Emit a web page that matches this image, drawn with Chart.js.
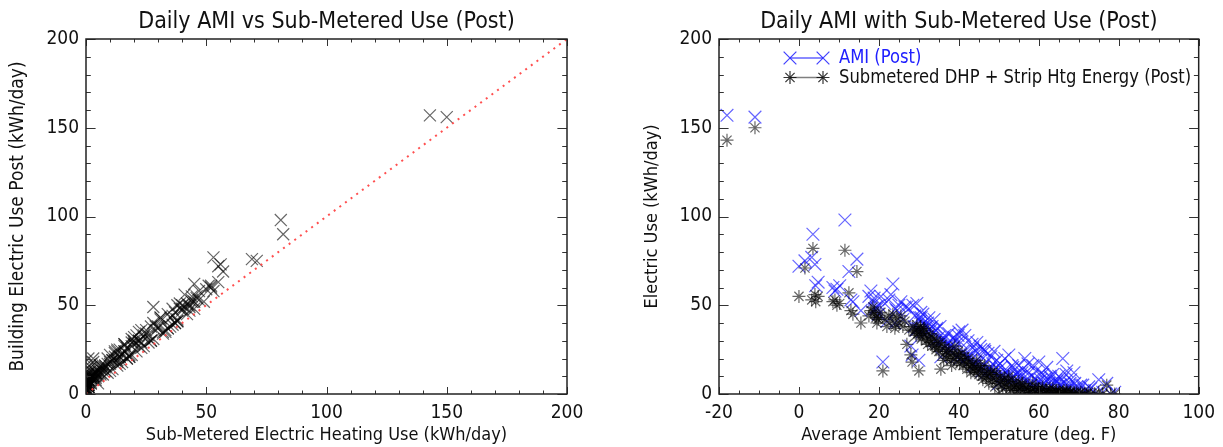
<!DOCTYPE html>
<html>
<head>
<meta charset="utf-8">
<script src="https://cdn.jsdelivr.net/npm/chart.js@4"></script>
<style>
  html, body { margin: 0; padding: 0; background: #fff; }
  #wrap { position: relative; width: 1223px; height: 447px; }
  canvas { position: absolute; top: 0; }
  #left { left: 0; }
  #right { left: 611px; }
</style>
</head>
<body>
<div id="wrap">
  <canvas id="left" width="611" height="447"></canvas>
  <canvas id="right" width="612" height="447"></canvas>
</div>
<script>
// One entry per day: average temperature, sub-metered heating energy, AMI whole-building use
const tempF = [
  -18, -11, 0, 1.5, 3.2, 3.5, 4.0, 4.2, 4.8, 8.5,
  9.0, 9.5, 10.2, 11.5, 12.5, 13.0, 13.5, 14.5, 15.5, 17.5,
  18.0, 18.5, 18.8, 19.0, 19.3, 19.5, 19.8, 20.0, 20.5, 21.0,
  21.5, 22.0, 22.5, 23.0, 23.5, 24.0, 24.2, 24.5, 25.0, 25.5,
  26.0, 26.5, 27.0, 27.5, 28.0, 28.3, 28.5, 28.8, 29.0, 29.3,
  29.5, 29.8, 30.0, 30.2, 30.4, 30.5, 30.6, 30.8, 31.0, 31.2,
  31.5, 31.8, 32.0, 32.2, 32.5, 32.8, 33.0, 33.3, 33.5, 33.8,
  34.0, 34.3, 34.5, 34.8, 35.0, 35.3, 35.5, 35.8, 36.0, 36.2,
  36.5, 36.8, 37.0, 37.3, 37.5, 37.8, 38.0, 38.2, 38.5, 38.8,
  39.0, 39.3, 39.5, 39.8, 40.0, 40.2, 40.5, 40.8, 41.0, 41.3,
  41.5, 41.8, 42.0, 42.3, 42.5, 42.8, 43.0, 43.3, 43.5, 43.8,
  44.0, 44.3, 44.5, 44.8, 45.0, 45.3, 45.5, 45.8, 46.0, 46.3,
  46.5, 46.8, 47.0, 47.3, 47.5, 47.8, 48.0, 48.3, 48.5, 48.8,
  49.0, 49.3, 49.5, 49.8, 50.0, 50.3, 50.5, 50.8, 51.0, 51.3,
  51.5, 51.8, 52.0, 52.3, 52.5, 52.8, 53.0, 53.3, 53.5, 53.8,
  54.0, 54.3, 54.5, 54.8, 55.0, 55.3, 55.5, 55.8, 56.0, 56.3,
  56.5, 56.8, 57.0, 57.3, 57.5, 57.8, 58.0, 58.3, 58.5, 58.8,
  59.0, 59.3, 59.5, 59.8, 60.0, 60.3, 60.5, 60.8, 61.0, 61.3,
  61.5, 61.8, 62.0, 62.3, 62.5, 62.8, 63.0, 63.3, 63.5, 63.8,
  64.0, 64.3, 64.5, 64.8, 65.0, 65.3, 65.5, 65.8, 66.0, 66.3,
  66.5, 66.8, 67.0, 67.3, 67.5, 67.8, 68.0, 68.5, 68.8, 69.0,
  69.5, 70.0, 70.5, 71.0, 71.5, 72.0, 72.5, 73.0, 74.0, 75.0,
  76.0, 77.0, 78.0, 79.0
];
const subMetered = [
  143, 150, 55, 71, 53, 82, 56, 52, 55, 52,
  53, 50, 51, 81, 57, 47, 45, 69, 40, 44,
  47, 49, 46, 45, 43, 40, 42, 43, 46, 13,
  42, 38, 44, 41, 45, 37, 39, 43, 40, 44,
  38, 41, 28, 36, 22, 18, 38, 35, 36, 33,
  39, 34, 13, 35, 38, 37, 31, 32, 34, 37,
  36, 30, 33, 28, 31, 34, 29, 27, 32, 31,
  27, 25, 30, 26, 24, 29, 14, 28, 22, 19,
  26, 24, 20, 23, 25, 21, 19, 16, 23, 20,
  27, 22, 18, 24, 22, 17, 20, 23, 16, 19,
  21, 17, 14, 20, 18, 15, 12, 16, 17, 13,
  15, 12, 19, 14, 11, 16, 14, 10, 8, 13,
  16, 9, 10, 12, 6, 11, 12, 7, 9, 13,
  4, 8, 11, 6, 0, 10, 7, 5, 3, 8,
  9, 4, 5, 7, 10, 3, 2, 8, 6, 4,
  1, 5, 4, 2, 7, 3, 2, 6, 5, 1,
  3, 4, 0, 2, 4, 1, 1, 3, 6, 0,
  2, 4, 0, 2, 3, 1, 1, 3, 4, 0,
  0, 2, 2, 0, 1, 3, 0, 1, 3, 0,
  0, 2, 1, 0, 2, 1, 0, 0, 1, 2,
  0, 1, 2, 0, 0, 1, 1, 0, 1, 0,
  1, 0, 1, 0, 0, 0, 1, 0, 0, 1,
  0, 5, 0, 0
];
const amiUse = [
  157, 156, 72, 75, 77, 90, 73, 61, 63, 60,
  58, 59, 61, 98, 69, 53, 52, 76, 47, 55,
  58, 52, 54, 48, 49, 48, 45, 50, 55, 18,
  51, 41, 53, 56, 62, 40, 48, 47, 50, 52,
  42, 49, 49, 48, 27, 22, 50, 38, 44, 36,
  51, 37, 19, 43, 41, 46, 43, 35, 45, 40,
  39, 38, 35, 40, 43, 37, 36, 38, 34, 42,
  30, 36, 37, 29, 32, 38, 21, 31, 30, 31,
  33, 27, 28, 29, 34, 24, 27, 28, 26, 32,
  30, 30, 21, 33, 35, 20, 29, 36, 24, 22,
  33, 20, 21, 30, 21, 22, 19, 28, 26, 16,
  18, 24, 29, 17, 19, 27, 25, 13, 16, 25,
  24, 12, 18, 23, 14, 14, 21, 13, 17, 24,
  12, 15, 19, 11, 6, 17, 15, 10, 10, 13,
  20, 9, 13, 11, 22, 8, 9, 16, 15, 10,
  8, 11, 12, 6, 16, 9, 10, 12, 14, 5,
  20, 8, 8, 17, 12, 5, 6, 10, 16, 3,
  9, 13, 5, 7, 18, 4, 8, 12, 11, 6,
  4, 9, 15, 3, 6, 10, 9, 4, 11, 6,
  3, 8, 7, 2, 10, 5, 5, 8, 20, 6,
  2, 11, 13, 3, 4, 6, 8, 3, 12, 6,
  4, 2, 5, 5, 2, 1, 4, 3, 2, 8,
  1, 6, 0, 1
];

const FONT = "'Liberation Sans Narrow', 'DejaVu Sans Condensed', 'Liberation Sans', sans-serif";
const INK = '#111';

// inward tick marks on all four sides plus the box, IDL style
const frameTicks = {
  id: 'frameTicks',
  afterDatasetsDraw(chart, args, o) {
    const {ctx, chartArea: a, scales} = chart;
    ctx.save();
    ctx.strokeStyle = '#333';
    ctx.lineWidth = 1;
    ctx.beginPath();
    for (let v = o.xMin; v <= o.xMax + 1e-9; v += o.xMinor) {
      const px = Math.round(scales.x.getPixelForValue(v)) + 0.5;
      const len = Math.abs(v % o.xMajor) < 1e-9 ? 7 : 3.5;
      ctx.moveTo(px, a.bottom); ctx.lineTo(px, a.bottom - len);
      ctx.moveTo(px, a.top); ctx.lineTo(px, a.top + len);
    }
    for (let v = o.yMin; v <= o.yMax + 1e-9; v += o.yMinor) {
      const py = Math.round(scales.y.getPixelForValue(v)) + 0.5;
      const len = Math.abs(v % o.yMajor) < 1e-9 ? 9.6 : 4.8;
      ctx.moveTo(a.left, py); ctx.lineTo(a.left + len, py);
      ctx.moveTo(a.right, py); ctx.lineTo(a.right - len, py);
    }
    ctx.stroke();
    ctx.strokeStyle = '#222';
    ctx.lineWidth = 1.5;
    ctx.strokeRect(a.left, a.top, a.right - a.left, a.bottom - a.top);
    ctx.restore();
  }
};

// hand-placed legend in the upper left of the plot
const boxLegend = {
  id: 'boxLegend',
  afterDraw(chart, args, o) {
    if (!o.items) return;
    const {ctx, chartArea: a} = chart;
    ctx.save();
    o.items.forEach((it, i) => {
      const y = a.top + 19 + i * 19.5;
      const x0 = a.left + 71, x1 = a.left + 104;
      ctx.strokeStyle = it.line;
      ctx.lineWidth = 1.5;
      ctx.beginPath(); ctx.moveTo(x0, y); ctx.lineTo(x1, y); ctx.stroke();
      ctx.strokeStyle = it.color;
      ctx.lineWidth = 1.2;
      [x0, x1].forEach(x => Chart.helpers.drawPoint(ctx, {pointStyle: it.style, radius: it.radius, borderWidth: 1.2}, x, y));
      // squeeze the text a little so the long label stays inside the box
      ctx.save();
      ctx.translate(a.left + 120, y);
      ctx.scale(0.91, 1);
      ctx.fillStyle = it.textColor;
      ctx.font = `20px ${FONT}`;
      ctx.textBaseline = 'middle';
      ctx.fillText(it.text, 0, 0);
      ctx.restore();
    });
    ctx.restore();
  }
};

function axisX(min, max, step, title) {
  return {
    type: 'linear', min, max,
    grid: {display: false, drawTicks: false},
    border: {display: false},
    ticks: {stepSize: step, color: INK, padding: 8, font: {family: FONT, size: 19}, maxRotation: 0},
    title: {display: true, text: title, color: INK, font: {family: FONT, size: 18, lineHeight: 1.2}, padding: {top: 1, bottom: 1}},
    afterFit(s) { s.height = 53; }
  };
}

function axisY(title, width, size, titlePad) {
  return {
    type: 'linear', min: 0, max: 200,
    grid: {display: false, drawTicks: false},
    border: {display: false},
    ticks: {stepSize: 50, color: INK, padding: 7, font: {family: FONT, size: 19}},
    title: {display: true, text: title, color: INK, font: {family: FONT, size, lineHeight: 1.2}, padding: {top: titlePad, bottom: titlePad}},
    afterFit(s) { s.width = width; }
  };
}

function titleOpts(text) {
  return {
    display: true, text, fullSize: false, color: INK,
    font: {family: FONT, size: 23, weight: 'normal', lineHeight: 1.2},
    padding: {top: 8, bottom: 3.4}
  };
}

const scatterPairs = subMetered.map((s, i) => ({x: s, y: amiUse[i]}));
const amiByTemp = tempF.map((t, i) => ({x: t, y: amiUse[i]}));
const subByTemp = tempF.map((t, i) => ({x: t, y: subMetered[i]}));

new Chart(document.getElementById('left'), {
  type: 'scatter',
  data: {
    datasets: [
      {
        type: 'line', data: [{x: 0, y: 0}, {x: 200, y: 200}],
        borderColor: 'rgba(255,70,70,0.95)', borderWidth: 2, borderDash: [2, 5],
        pointRadius: 0, fill: false
      },
      {
        data: scatterPairs, pointStyle: 'crossRot', pointRadius: 8.5,
        borderColor: 'rgba(0,0,0,0.6)', borderWidth: 1.2, backgroundColor: 'transparent'
      }
    ]
  },
  options: {
    responsive: false, animation: false, events: [],
    layout: {padding: {left: 0, right: 44, top: 0, bottom: 0}},
    plugins: {
      legend: {display: false}, tooltip: {enabled: false},
      title: titleOpts('Daily AMI vs Sub-Metered Use (Post)'),
      frameTicks: {xMin: 0, xMax: 200, xMinor: 10, xMajor: 50, yMin: 0, yMax: 200, yMinor: 10, yMajor: 50}
    },
    scales: {
      x: axisX(0, 200, 50, 'Sub-Metered Electric Heating Use (kWh/day)'),
      y: axisY('Building Electric Use Post (kWh/day)', 86, 19, 6.6)
    }
  },
  plugins: [frameTicks]
});

new Chart(document.getElementById('right'), {
  type: 'scatter',
  data: {
    datasets: [
      {
        label: 'Submetered DHP + Strip Htg Energy (Post)',
        data: subByTemp, pointStyle: 'star', pointRadius: 6.5,
        borderColor: 'rgba(0,0,0,0.6)', borderWidth: 1.2, backgroundColor: 'transparent'
      },
      {
        label: 'AMI (Post)',
        data: amiByTemp, pointStyle: 'crossRot', pointRadius: 9,
        borderColor: 'rgba(20,20,255,0.65)', borderWidth: 1.2, backgroundColor: 'transparent'
      }
    ]
  },
  options: {
    responsive: false, animation: false, events: [],
    layout: {padding: {left: 0, right: 24, top: 0, bottom: 0}},
    plugins: {
      legend: {display: false}, tooltip: {enabled: false},
      title: titleOpts('Daily AMI with Sub-Metered Use (Post)'),
      frameTicks: {xMin: -20, xMax: 100, xMinor: 5, xMajor: 20, yMin: 0, yMax: 200, yMinor: 10, yMajor: 50},
      boxLegend: {
        items: [
          {text: 'AMI (Post)', textColor: '#2020ff', color: 'rgba(30,30,255,0.85)', line: 'rgba(60,60,255,0.8)', style: 'crossRot', radius: 9},
          {text: 'Submetered DHP + Strip Htg Energy (Post)', textColor: INK, color: 'rgba(0,0,0,0.8)', line: 'rgba(0,0,0,0.5)', style: 'star', radius: 6.5}
        ]
      }
    },
    scales: {
      x: axisX(-20, 100, 20, 'Average Ambient Temperature (deg. F)'),
      y: axisY('Electric Use (kWh/day)', 108, 18, 31)
    }
  },
  plugins: [frameTicks, boxLegend]
});
</script>
</body>
</html>
